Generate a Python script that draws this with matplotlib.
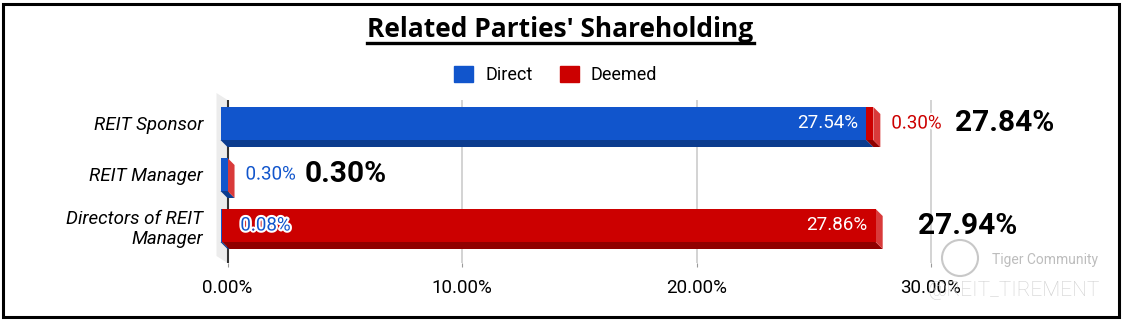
import matplotlib.pyplot as plt
from matplotlib.patches import Patch, Rectangle, Ellipse
import matplotlib.patheffects as pe

categories = ["REIT Sponsor", "REIT Manager", "Directors of REIT\nManager"]
direct = [27.54, 0.30, 0.08]
deemed = [0.30, 0.00, 27.86]
x_ticks = [0, 10, 20, 30]

blue, blue_dark = "#1155cc", "#0b3c8f"
red, red_dark, red_side = "#cc0000", "#900000", "#d93a3a"

plt.rcParams["font.family"] = ["Roboto", "DejaVu Sans"]

W, H = 1123, 322
fig = plt.figure(figsize=(W / 100, H / 100), dpi=100)
ax = fig.add_axes([205 / W, (H - 263) / H, (1110 - 205) / W, 163 / H])

# pixel scale of the plot area
x0, ppu, row = 227.5, 23.45, 51
ax.set_xlim((205 - x0) / ppu, (1110 - x0) / ppu)
ax.set_ylim(2 + (263 - 225.5) / row, -(123.5 - 100) / row)
for s in ax.spines.values():
    s.set_visible(False)

dx, dy, h = 7 / ppu, 7 / row, 33 / row

# back wall + grid
top, bot = ax.get_ylim()[1], ax.get_ylim()[0]
ax.fill([-11 / ppu, 0, 0, -11 / ppu], [top - dy, top, bot, bot - dy],
        color="#ececec", lw=0, zorder=0, clip_on=False)
for t in x_ticks[1:]:
    ax.axvline(t, color="#cccccc", lw=1.2, zorder=0.5)
ax.axvline(0, color="#333333", lw=1.5, zorder=0.6)

# 3d stacked bars
for i in range(len(categories)):
    left = 0
    for val, c, cd in [(direct[i], blue, blue_dark), (deemed[i], red, red_dark)]:
        r = left + val
        ax.fill([left - dx, r - dx, r, left], [i + h / 2, i + h / 2, i + h / 2 + dy, i + h / 2 + dy],
                color=cd, lw=0, zorder=2)
        left = r
    T = left
    ax.fill([T - dx, T, T, T - dx], [i - h / 2, i - h / 2 + dy, i + h / 2 + dy, i + h / 2],
            color=red_side, lw=0, zorder=2)

ax.barh(range(3), direct, left=[-dx] * 3, height=h, color=blue, zorder=3)
ax.barh(range(3), deemed, left=[d - dx for d in direct], height=h, color=red, zorder=3)

# segment labels
stroke = [pe.withStroke(linewidth=3, foreground="white")]
for i in range(3):
    T = direct[i] + deemed[i]
    for val, end, c in [(direct[i], direct[i], blue), (deemed[i], T, red)]:
        if val == 0:
            continue
        if val > 5:
            ax.annotate(f"{val:.2f}%", xy=(end - dx, i), xytext=(-8, 0), textcoords="offset pixels",
                        ha="right", va="center", color="white", fontsize=13.5, zorder=5)
        else:
            ax.annotate(f"{val:.2f}%", xy=(end, i), xytext=(11, 0), textcoords="offset pixels",
                        ha="left", va="center", color=c, fontsize=13.5, zorder=5,
                        path_effects=stroke)

# totals
total_offsets = [75, 70, 35]
for i in range(3):
    T = direct[i] + deemed[i]
    ax.annotate(f"{T:.2f}%", xy=(T, i), xytext=(total_offsets[i], 0), textcoords="offset pixels",
                ha="left", va="center", fontsize=21.5, fontweight="bold", color="black", zorder=5)

ax.set_xticks(x_ticks, [f"{t:.2f}%" for t in x_ticks], fontsize=13.5)
ax.tick_params(axis="x", length=3, color="#999999", pad=8.5)
ax.set_yticks(range(3), categories, fontsize=13.5, fontstyle="italic")
ax.tick_params(axis="y", length=0, pad=1.5)

# title with underline
title = fig.text(560.5 / W, 1 - 37 / H, "Related Parties' Shareholding", ha="center", va="baseline",
                 fontsize=19, fontweight="bold", family=["Open Sans", "DejaVu Sans"])
fig.canvas.draw()
bb = title.get_window_extent()
fig.add_artist(plt.Line2D([bb.x0 / W, bb.x1 / W], [1 - 42.5 / H, 1 - 42.5 / H],
                          transform=fig.transFigure, color="black", lw=2.4))

fig.legend(handles=[Patch(color=blue, label="Direct"), Patch(color=red, label="Deemed")],
           loc="center", bbox_to_anchor=(555.5 / W, 1 - 75 / H), ncol=2, frameon=False,
           fontsize=13, handlelength=1.05, handleheight=1.05, handletextpad=0.67,
           columnspacing=1.5)

# watermark
fig.add_artist(Ellipse((960 / W, 1 - 258 / H), 36 / W, 36 / H, transform=fig.transFigure,
                       fill=False, ec="#c8c8c8", lw=1.5))
fig.text(992 / W, 1 - 260 / H, "Tiger Community", color="#bdbdbd", fontsize=10, va="center")
fig.text(1100 / W, 1 - 290 / H, "@REIT_TIREMENT", color="#cfcfcf", fontsize=15, va="center",
         ha="right", fontweight="light")

# outer frame
fig.add_artist(Rectangle((3 / W, (H - 316.5) / H), (1118.5 - 3) / W, (316.5 - 3.5) / H,
                         transform=fig.transFigure, fill=False, ec="black", lw=2.2))

fig.savefig("out.png", dpi=100)
